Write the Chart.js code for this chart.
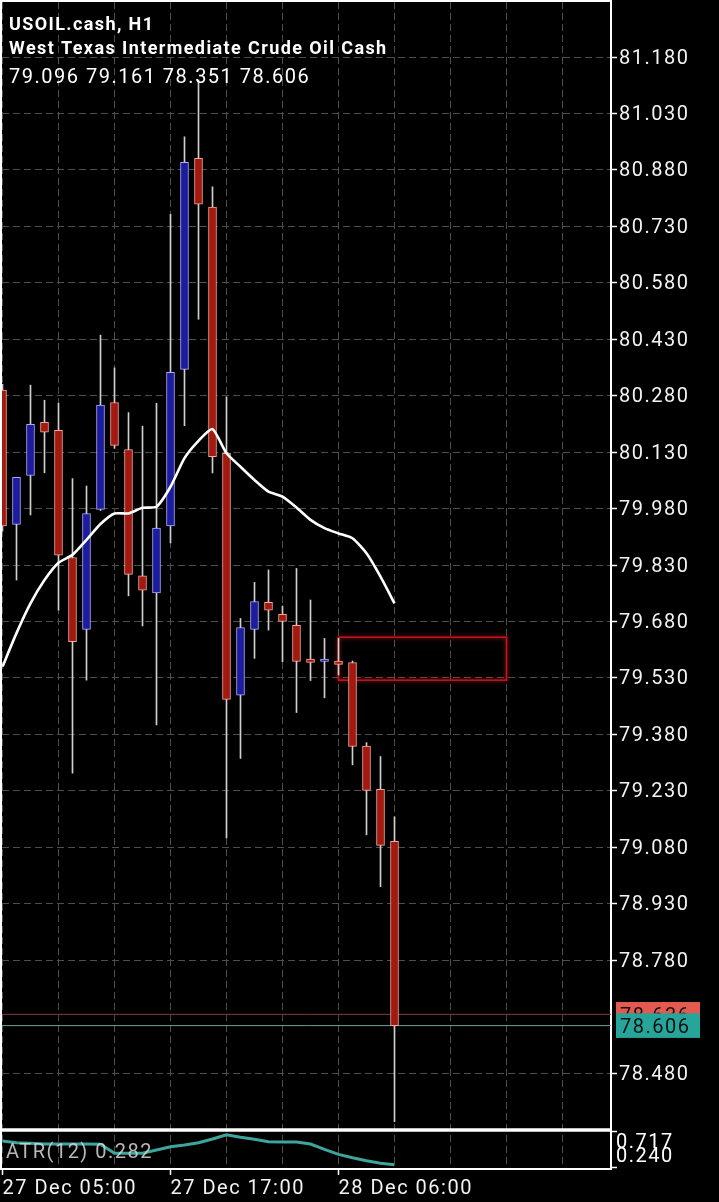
<!DOCTYPE html>
<html><head><meta charset="utf-8">
<script src="https://cdn.jsdelivr.net/npm/chart.js@4.4.1/dist/chart.umd.min.js"></script>
<style>html,body{margin:0;padding:0;background:#000;overflow:hidden}canvas{display:block}</style>
</head><body>
<canvas id="c" width="719" height="1202" style="width:719px;height:1202px"></canvas>
<script>
// ---------------- data ----------------
const symbolTitle = 'USOIL.cash, H1';
const symbolName = 'West Texas Intermediate Crude Oil Cash';
const opens  = [80.295,79.938,80.068,80.209,80.188,79.850,79.659,79.978,80.262,80.137,79.801,79.756,79.934,80.350,80.911,80.781,80.127,79.484,79.659,79.731,79.699,79.670,79.580,79.574,79.575,79.571,79.349,79.234,79.096];
const highs  = [80.310,80.063,80.308,80.268,80.260,80.060,80.040,80.441,80.354,80.235,80.199,80.260,80.762,80.968,81.119,80.835,80.277,79.688,79.784,79.817,79.721,79.821,79.737,79.635,79.635,79.575,79.358,79.321,79.161];
const lows   = [79.920,79.790,79.963,80.075,79.710,79.277,79.524,79.975,80.140,79.748,79.668,79.405,79.889,80.200,80.483,80.075,79.105,79.316,79.582,79.657,79.573,79.438,79.523,79.477,79.538,79.299,79.113,78.975,78.351];
const closes = [79.934,80.063,80.204,80.183,79.856,79.626,79.967,80.255,80.148,79.805,79.763,79.928,80.342,80.900,80.789,80.118,79.473,79.664,79.733,79.710,79.680,79.574,79.571,79.580,79.566,79.348,79.231,79.085,78.606];
const maValues = [79.560,79.649,79.728,79.790,79.836,79.857,79.897,79.939,79.967,79.967,79.982,79.985,80.038,80.114,80.160,80.191,80.127,80.091,80.056,80.025,80.012,79.983,79.950,79.928,79.914,79.901,79.861,79.799,79.728];
const atrValues = [0.598,0.575,0.567,0.558,0.558,0.558,0.558,0.554,0.435,0.435,0.435,0.478,0.522,0.545,0.575,0.624,0.681,0.647,0.620,0.588,0.584,0.584,0.558,0.488,0.421,0.376,0.337,0.303,0.282];
const atrName = 'ATR(12)';
const priceTicks = [81.18,81.03,80.88,80.73,80.58,80.43,80.28,80.13,79.98,79.83,79.68,79.53,79.38,79.23,79.08,78.93,78.78,78.48];
const atrTicks = [0.240, 0.717];
const timeTickIdx = [0, 12, 24];
const timeTickText = ['27 Dec 05:00', '27 Dec 17:00', '28 Dec 06:00'];
const gridEvery = 4;
const askLevel = 78.636;
const bidLevel = 78.606;
const zoneIdx = [24, 36];
const zonePrice = [79.524, 79.638];
const xRange = [-0.0357, 43.464];
const priceRange = [78.3286, 81.3262];
const atrRange = [0.2267, 0.7435];

// ---------------- build ----------------
const idx = opens.map((_, i) => i);
const isUp = idx.map(i => closes[i] >= opens[i]);
const bodies = idx.map(i => ({x: i, y: [opens[i], closes[i]]}));
const wicks = idx.map(i => ({x: i, y: [lows[i], highs[i]]}));
const gridIdx = [];
for (let g = 0; g <= xRange[1]; g += gridEvery) gridIdx.push(g);

Chart.defaults.font.family = 'Roboto';
const LS = '1.5px';

const noPad = s => { s.paddingTop = 0; s.paddingBottom = 0; s.paddingLeft = 0; s.paddingRight = 0; };

const bgPlugin = {
  id: 'bg',
  beforeDraw(chart) {
    const c = chart.ctx;
    c.save();
    c.fillStyle = '#000';
    c.fillRect(0, 0, chart.width, chart.height);
    c.restore();
    c.letterSpacing = LS;
  }
};

const zonePlugin = {
  id: 'zone',
  beforeDatasetsDraw(chart) {
    const {ctx, scales: {x, y}} = chart;
    const x1 = x.getPixelForValue(zoneIdx[0]), x2 = x.getPixelForValue(zoneIdx[1]);
    const y1 = y.getPixelForValue(zonePrice[1]), y2 = y.getPixelForValue(zonePrice[0]);
    ctx.save();
    ctx.strokeStyle = '#c4161c';
    ctx.lineWidth = 1.5;
    ctx.shadowColor = 'rgba(255,40,40,0.8)';
    ctx.shadowBlur = 4;
    ctx.strokeRect(x1, y1, x2 - x1, y2 - y1);
    ctx.restore();
  }
};

const overlayPlugin = {
  id: 'overlay',
  afterDraw(chart) {
    const {ctx, chartArea: a, scales: {y, y2}} = chart;
    ctx.save();
    ctx.letterSpacing = LS;
    // frame
    ctx.strokeStyle = '#ffffff';
    ctx.lineWidth = 2;
    ctx.beginPath();
    ctx.moveTo(1, a.bottom + 1); ctx.lineTo(1, 1); ctx.lineTo(a.right + 1, 1);
    ctx.moveTo(0, a.bottom); ctx.lineTo(a.right + 1, a.bottom);
    ctx.stroke();
    ctx.lineWidth = 3.5;
    ctx.beginPath();
    ctx.moveTo(0, y.bottom); ctx.lineTo(a.right + 1, y.bottom);
    ctx.stroke();

    // header
    ctx.fillStyle = '#ffffff';
    ctx.textBaseline = 'alphabetic';
    ctx.letterSpacing = '1.4px';
    ctx.font = 'bold 18px Roboto';
    ctx.fillText(symbolTitle, 9, 30);
    ctx.fillText(symbolName, 9, 54);
    ctx.letterSpacing = LS;
    ctx.font = '20px Roboto';
    const last = opens.length - 1;
    ctx.fillText([opens[last], highs[last], lows[last], closes[last]].map(v => v.toFixed(3)).join(' '), 9, 82.5);

    // ATR caption
    ctx.fillStyle = 'rgba(215,215,215,0.85)';
    ctx.fillText(atrName + ' ' + atrValues[atrValues.length - 1].toFixed(3), 6, 1158);

    // ATR scale labels
    ctx.fillStyle = '#ffffff';
    ctx.fillText(atrTicks[1].toFixed(3), a.right + 5, y2.getPixelForValue(atrTicks[1]) + 16);
    ctx.fillText(atrTicks[0].toFixed(3), a.right + 5, y2.getPixelForValue(atrTicks[0]) - 6);

    // price tags
    const tag = (val, bg) => {
      const py = y.getPixelForValue(val);
      ctx.fillStyle = bg;
      ctx.fillRect(a.right + 5, py - 12.3, 84, 24.6);
      ctx.fillStyle = '#111111';
      ctx.fillText(val.toFixed(3), a.right + 9, py + 7.2);
    };
    tag(askLevel, '#e45a50');
    tag(bidLevel, '#26a69a');
    ctx.restore();
  }
};

const gridColor = '#4e4e4e';
const dash = [7, 4];

new Chart(document.getElementById('c'), {
  type: 'bar',
  data: {
    datasets: [
      {type: 'line', data: [{x: xRange[0], y: askLevel}, {x: xRange[1], y: askLevel}], borderColor: '#8e3a3a', borderWidth: 1, pointRadius: 0, order: 10, yAxisID: 'y', clip: 0},
      {type: 'line', data: [{x: xRange[0], y: bidLevel}, {x: xRange[1], y: bidLevel}], borderColor: '#6f9f9b', borderWidth: 1, pointRadius: 0, order: 9, yAxisID: 'y', clip: 0},
      {type: 'bar', data: wicks, backgroundColor: '#cfcfcf', barThickness: 1, grouped: false, order: 8, yAxisID: 'y', clip: 0},
      {type: 'bar', data: bodies,
        backgroundColor: isUp.map(u => u ? '#1c1c9c' : '#a2190f'),
        borderColor: isUp.map(u => u ? '#aaaaff' : '#f6a59c'),
        borderWidth: 1, borderSkipped: false, barThickness: 8, grouped: false, order: 7, yAxisID: 'y', clip: 0},
      {type: 'line', data: idx.map(i => ({x: i, y: maValues[i]})), borderColor: '#ffffff', borderWidth: 2.6, pointRadius: 0, tension: 0.2, order: 2, yAxisID: 'y', clip: 0},
      {type: 'line', data: idx.map(i => ({x: i, y: atrValues[i]})), borderColor: '#3ea59c', borderWidth: 3, pointRadius: 0, tension: 0, order: 1, yAxisID: 'y2', clip: 0}
    ]
  },
  options: {
    responsive: false,
    animation: false,
    devicePixelRatio: 1,
    events: [],
    layout: {padding: {left: 2, top: 2, right: 0, bottom: 0}},
    plugins: {legend: {display: false}, tooltip: {enabled: false}, title: {display: false}},
    scales: {
      x: {
        type: 'linear', min: xRange[0], max: xRange[1], position: 'bottom', offset: false,
        afterBuildTicks: s => { s.ticks = gridIdx.map(v => ({value: v})); },
        afterFit: s => { s.height = 33; noPad(s); },
        grid: {offset: false, color: gridColor, lineWidth: 1, drawTicks: true, tickLength: 6, tickWidth: 1.5, tickBorderDash: [],
          tickColor: c => (c.tick && timeTickIdx.includes(c.tick.value)) ? '#ffffff' : 'rgba(0,0,0,0)'},
        border: {display: false, dash: dash},
        ticks: {autoSkip: false, maxRotation: 0, minRotation: 0, align: 'start', padding: 2, color: '#f2f2f2', font: {size: 20},
          callback: v => { const k = timeTickIdx.indexOf(v); return k >= 0 ? timeTickText[k] : ''; }}
      },
      y: {
        type: 'linear', position: 'right', stack: 'main', stackWeight: 1128, min: priceRange[0], max: priceRange[1],
        afterBuildTicks: s => { s.ticks = priceTicks.map(v => ({value: v})); },
        afterFit: s => { s.width = 108; noPad(s); },
        grid: {color: gridColor, lineWidth: 1, drawTicks: true, tickLength: 6, tickWidth: 1.5, tickColor: '#ffffff', tickBorderDash: []},
        border: {display: true, color: '#ffffff', width: 2, dash: dash},
        ticks: {color: '#f2f2f2', font: {size: 20}, padding: 2, labelOffset: 1.5, callback: v => v.toFixed(3)}
      },
      y2: {
        type: 'linear', position: 'right', stack: 'main', stackWeight: 39, min: atrRange[0], max: atrRange[1],
        afterBuildTicks: s => { s.ticks = atrTicks.map(v => ({value: v})); },
        afterFit: s => { s.width = 108; noPad(s); },
        grid: {drawOnChartArea: false, drawTicks: true, tickLength: 6, tickWidth: 1.5, tickColor: '#ffffff', color: gridColor},
        border: {display: true, color: '#ffffff', width: 2},
        ticks: {callback: () => '', padding: 2}
      }
    }
  },
  plugins: [bgPlugin, zonePlugin, overlayPlugin]
});
</script>
</body></html>
